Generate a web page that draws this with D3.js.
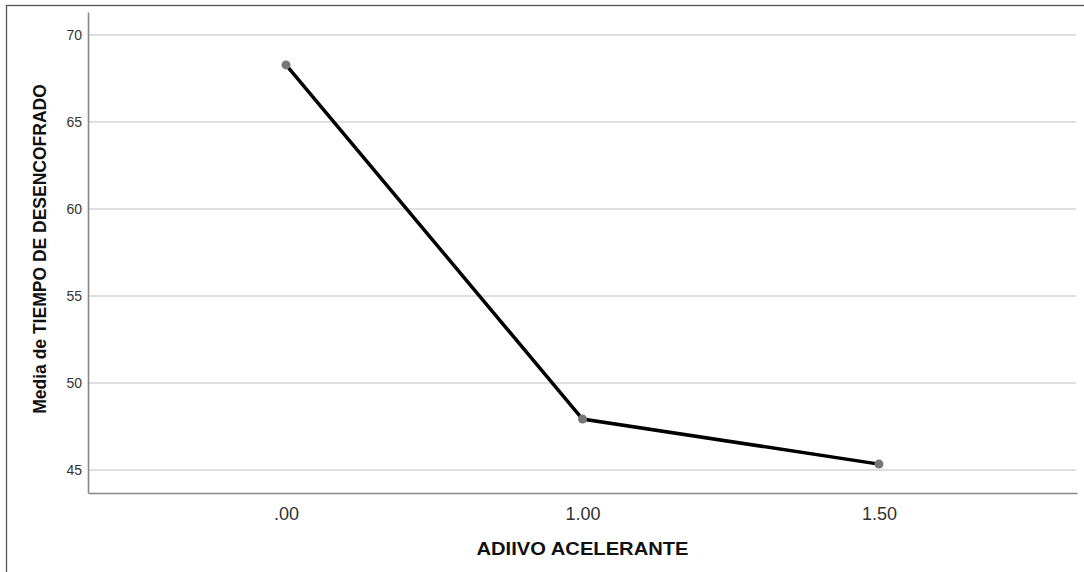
<!DOCTYPE html>
<html><head><meta charset="utf-8">
<script src="https://cdn.jsdelivr.net/npm/d3@7"></script>
<style>body{margin:0;background:#fff}svg{display:block}</style>
</head><body>
<svg id="c" width="1084" height="572"></svg>
<script>
const categories = [".00", "1.00", "1.50"];
const means = [68.28, 47.93, 45.34];
const yTicks = [45, 50, 55, 60, 65, 70];
const xTitle = "ADIIVO ACELERANTE";
const yTitle = "Media de TIEMPO DE DESENCOFRADO";

const svg = d3.select("#c");
const W = 1084, H = 572;
const m = {left: 88, right: 7, top: 12, bottom: 79};
const x = d3.scalePoint().domain(categories).range([m.left, W - m.right]).padding(0.668);
const y = d3.scaleLinear().domain([43.68, 71.32]).range([H - m.bottom, m.top]);
const FONT = "Liberation Sans, Arial, sans-serif";

// outer frame
svg.append("rect").attr("x", 6.5).attr("y", 5.5).attr("width", 1200).attr("height", 800)
  .attr("fill", "none").attr("stroke", "#555").attr("stroke-width", 1.3);

// gridlines
svg.append("g").selectAll("line").data(yTicks).join("line")
  .attr("x1", m.left).attr("x2", W - m.right - 1)
  .attr("y1", d => y(d)).attr("y2", d => y(d))
  .attr("stroke", "#d4d4d4").attr("stroke-width", 1.5);

// y axis
const ya = svg.append("g").attr("transform", `translate(${m.left},0)`)
  .call(d3.axisLeft(y).tickValues(yTicks).tickSize(0).tickPadding(6).tickFormat(d3.format("d")));
ya.select(".domain").attr("stroke", "#888").attr("stroke-width", 1.6);
ya.selectAll("text").attr("font-family", FONT).attr("font-size", 14).attr("fill", "#333");

// x axis
const xa = svg.append("g").attr("transform", `translate(0,${H - m.bottom})`)
  .call(d3.axisBottom(x).tickSize(0).tickPadding(14));
xa.select(".domain").attr("stroke", "#888").attr("stroke-width", 1.6);
xa.selectAll("text").attr("font-family", FONT).attr("font-size", 18).attr("fill", "#333");

// line
const data = categories.map((c, i) => ({c, v: means[i]}));
svg.append("path").datum(data)
  .attr("d", d3.line().x(d => x(d.c)).y(d => y(d.v)))
  .attr("fill", "none").attr("stroke", "#000").attr("stroke-width", 3.5);
svg.append("g").selectAll("circle").data(data).join("circle")
  .attr("cx", d => x(d.c)).attr("cy", d => y(d.v)).attr("r", 4.5).attr("fill", "#777");

// titles
svg.append("text").attr("x", x(categories[1])).attr("y", 555).attr("text-anchor", "middle")
  .attr("font-family", FONT).attr("font-size", 18).attr("font-weight", "bold")
  .attr("textLength", 212).attr("lengthAdjust", "spacingAndGlyphs")
  .attr("fill", "#111").text(xTitle);
svg.append("text").attr("transform", `translate(46,249) rotate(-90)`)
  .attr("text-anchor", "middle")
  .attr("font-family", FONT).attr("font-size", 17.5).attr("font-weight", "bold")
  .attr("fill", "#111").text(yTitle);
</script>
</body></html>
